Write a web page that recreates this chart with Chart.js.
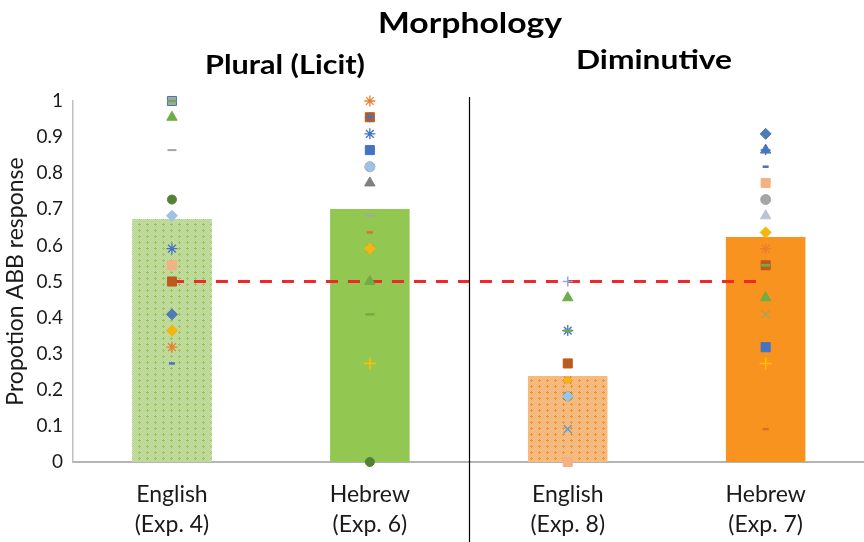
<!DOCTYPE html>
<html>
<head>
<meta charset="utf-8">
<script src="https://cdn.jsdelivr.net/npm/chart.js@4.4.1/dist/chart.umd.min.js"></script>
<style>
    html, body { margin: 0; padding: 0; background: #fff; overflow: hidden; }
    #wrap { width: 872px; height: 542px; }
</style>
</head>
<body>
<div id="wrap"><canvas id="morphChart"></canvas></div>
<script>
const categories = [['English', '(Exp. 4)'], ['Hebrew', '(Exp. 6)'], ['English', '(Exp. 8)'], ['Hebrew', '(Exp. 7)']];
const yTicks = [0, 0.1, 0.2, 0.3, 0.4, 0.5, 0.6, 0.7, 0.8, 0.9, 1];
const meanScores = [0.673, 0.701, 0.238, 0.623];
const chanceLevel = [0.5, 0.5, 0.5, 0.5];

// individual participants, one array per experiment
const exp4Scores = [1, 1, 1, 0.955, 0.864, 0.727, 0.682, 0.591, 0.545, 0.5, 0.409, 0.364, 0.364, 0.318, 0.273];
const exp6Scores = [1, 0.955, 0.955, 0.909, 0.864, 0.818, 0.818, 0.773, 0.682, 0.636, 0.591, 0.591, 0.5, 0.409, 0.273, 0];
const exp8Scores = [0.5, 0.455, 0.364, 0.364, 0.273, 0.273, 0.227, 0.227, 0.182, 0.182, 0.091, 0];
const exp7Scores = [0.909, 0.909, 0.864, 0.864, 0.818, 0.773, 0.727, 0.682, 0.636, 0.591, 0.545, 0.545, 0.455, 0.409, 0.318, 0.273, 0.091];

// marker look of each participant (same order as the scores)
const exp4Markers = ['xOrange', 'sqGreyBlue', 'dashGreen', 'triGreen', 'dashGrey', 'dotDkGreen', 'diaLtBlue', 'starBlue', 'sqSalmon', 'sqBrown', 'diaBlue', 'plusYellow', 'diaYellow', 'starOrange', 'dashBlueSm'];
const exp6Markers = ['starOrange', 'sqBrown', 'plusBlue', 'starBlue', 'sqBlue', 'dotGrey', 'diaLtBlue', 'triDkGrey', 'dashGrey', 'dashOrangeSm', 'xOrange', 'diaYellow', 'triGreen', 'dashGreen', 'plusYellow', 'dotDkGreen'];
const exp8Markers = ['plusLtBlue', 'triGreen', 'starBlue', 'dashGreen', 'dashBlueSm', 'sqBrown', 'xOrange', 'diaYellowSm', 'dotDkGreen', 'diaLtBlue', 'xBlue', 'sqSalmon'];
const exp7Markers = ['dashGrey', 'diaBlue', 'triBlue', 'plusBlue', 'dashBlueSm', 'sqSalmon', 'dotGrey', 'triLtGrey', 'diaYellow', 'starOrange', 'sqBrown', 'dashGreen', 'triGreen', 'xOlive', 'sqBlue', 'plusYellow', 'dashOrangeSm'];

const MARKERS = {
    xOrange:      { style: 'crossRot',  fill: '#ED7D31', line: '#ED7D31', r: 5,   w: 1.5 },
    starOrange:   { style: 'star',      fill: '#ED7D31', line: '#ED7D31', r: 5.5, w: 1.3 },
    starBlue:     { style: 'star',      fill: '#4472C4', line: '#4472C4', r: 5.5, w: 1.3 },
    sqGreyBlue:   { style: 'rect',      fill: '#A5A5A5', line: '#4472C4', r: 6.4, w: 1 },
    dashGreen:    { style: 'line',      fill: '#70AD47', line: '#70AD47', r: 4.5, w: 2.5 },
    triGreen:     { style: 'triangle',  fill: '#70AD47', line: '#70AD47', r: 6,   w: 1 },
    dashGrey:     { style: 'line',      fill: '#A5A5A5', line: '#A5A5A5', r: 4.5, w: 2 },
    dotDkGreen:   { style: 'circle',    fill: '#548235', line: '#548235', r: 4.5, w: 1 },
    diaLtBlue:    { style: 'rectRot',   fill: '#9DC3E6', line: '#9DC3E6', r: 5.5, w: 1 },
    sqSalmon:     { style: 'rect',      fill: '#F4B183', line: '#F4B183', r: 6.4, w: 1 },
    sqBrown:      { style: 'rect',      fill: '#BC5A1E', line: '#BC5A1E', r: 6.4, w: 1 },
    diaBlue:      { style: 'rectRot',   fill: '#4E7AB5', line: '#4E7AB5', r: 5.5, w: 1 },
    diaYellow:    { style: 'rectRot',   fill: '#F5B50F', line: '#F5B50F', r: 5.5, w: 1 },
    diaYellowSm:  { style: 'rectRot',   fill: '#F5B50F', line: '#F5B50F', r: 4,   w: 1 },
    plusYellow:   { style: 'cross',     fill: '#FFC000', line: '#FFC000', r: 6,   w: 1.5 },
    dashBlueSm:   { style: 'line',      fill: '#4472C4', line: '#4472C4', r: 3,   w: 2.5 },
    plusBlue:     { style: 'cross',     fill: '#4472C4', line: '#4472C4', r: 5,   w: 1.5 },
    sqBlue:       { style: 'rect',      fill: '#4472C4', line: '#4472C4', r: 6.4, w: 1 },
    dotGrey:      { style: 'circle',    fill: '#A5A5A5', line: '#A5A5A5', r: 5,   w: 1 },
    triDkGrey:    { style: 'triangle',  fill: '#7F7F7F', line: '#7F7F7F', r: 6,   w: 1 },
    dashOrangeSm: { style: 'line',      fill: '#E46C2A', line: '#E46C2A', r: 3,   w: 2.5 },
    plusLtBlue:   { style: 'cross',     fill: '#8FA9DC', line: '#8FA9DC', r: 5,   w: 1.5 },
    xBlue:        { style: 'crossRot',  fill: '#5B9BD5', line: '#5B9BD5', r: 5.5, w: 1.5 },
    triBlue:      { style: 'triangle',  fill: '#4E7AB5', line: '#4E7AB5', r: 6,   w: 1 },
    triLtGrey:    { style: 'triangle',  fill: '#BAC4D4', line: '#BAC4D4', r: 6,   w: 1 },
    xOlive:       { style: 'crossRot',  fill: '#B5A050', line: '#B5A050', r: 6,   w: 1.5 }
};

function makePattern(base, dot, speck) {
    const c = document.createElement('canvas');
    c.width = 8;
    c.height = 6;
    const g = c.getContext('2d');
    g.fillStyle = base;
    g.fillRect(0, 0, 8, 6);
    g.fillStyle = speck;
    for (let y = 0; y < 6; y++) {
        for (let x = (y % 2); x < 8; x += 2) g.fillRect(x, y, 1, 1);
    }
    g.fillStyle = dot;
    g.fillRect(2, 2, 3, 1);
    g.fillRect(3, 1, 1, 3);
    return g.createPattern(c, 'repeat');
}

function participantDataset(col, scores, markerKeys) {
    const m = markerKeys.map(k => MARKERS[k]);
    return {
        type: 'line',
        showLine: false,
        clip: false,
        order: 1,
        // x is the category label itself so the category scale finds its column
        data: scores.map(v => ({ x: categories[col], y: v })),
        pointStyle: m.map(p => p.style),
        pointRadius: m.map(p => p.r),
        pointBackgroundColor: m.map(p => p.fill),
        pointBorderColor: m.map(p => p.line),
        pointBorderWidth: m.map(p => p.w)
    };
}

function drawFitted(ctx, text, cx, baseline, font, width) {
    ctx.font = font;
    const w = ctx.measureText(text).width;
    ctx.save();
    ctx.translate(cx, baseline);
    ctx.scale(width / w, 1);
    ctx.fillText(text, 0, 0);
    ctx.restore();
}

const labelsPlugin = {
    id: 'morphLabels',
    afterDraw(chart) {
        const ctx = chart.ctx;
        const area = chart.chartArea;
        const xScale = chart.scales.x;
        const divX = Math.round(xScale.getPixelForValue(1.5)) + 0.5;

        ctx.save();
        ctx.strokeStyle = '#000';
        ctx.lineWidth = 1.2;
        ctx.beginPath();
        ctx.moveTo(divX, area.top - 4);
        ctx.lineTo(divX, chart.height);
        ctx.stroke();

        ctx.fillStyle = '#000';
        ctx.textAlign = 'center';
        ctx.textBaseline = 'alphabetic';
        drawFitted(ctx, 'Morphology', 470, 33, 'bold 29px Lato', 184);
        drawFitted(ctx, 'Plural (Licit)', 285, 74, 'bold 27px Lato', 160);
        drawFitted(ctx, 'Diminutive', 654, 69, 'bold 27px Lato', 156);
        ctx.restore();
    }
};

document.addEventListener('DOMContentLoaded', () => {
    const ctx = document.getElementById('morphChart').getContext('2d');
    const greenHatch = makePattern('#C6DEA6', '#94C752', '#B9D690');
    const orangeHatch = makePattern('#F5C28D', '#F78F22', '#F2B373');

    new Chart(ctx, {
        type: 'bar',
        data: {
            labels: categories,
            datasets: [
                {
                    type: 'line',
                    data: chanceLevel,
                    borderColor: '#F02828',
                    borderWidth: 3,
                    borderDash: [12, 10],
                    pointRadius: 0,
                    fill: false,
                    clip: false,
                    order: 2
                },
                participantDataset(0, exp4Scores, exp4Markers),
                participantDataset(1, exp6Scores, exp6Markers),
                participantDataset(2, exp8Scores, exp8Markers),
                participantDataset(3, exp7Scores, exp7Markers),
                {
                    data: meanScores,
                    backgroundColor: [greenHatch, '#92C851', orangeHatch, '#F7931E'],
                    borderWidth: 0,
                    categoryPercentage: 1,
                    barPercentage: 0.402,
                    order: 3
                }
            ]
        },
        options: {
            responsive: true,
            maintainAspectRatio: false,
            animation: false,
            events: [],
            layout: {
                padding: { top: 101, right: 2, bottom: 0, left: 0 }
            },
            plugins: {
                legend: { display: false },
                tooltip: { enabled: false }
            },
            scales: {
                x: {
                    grid: { display: false, drawTicks: false },
                    border: { display: true, color: '#B4B4B4', width: 2 },
                    ticks: {
                        color: '#1a1a1a',
                        padding: 18,
                        maxRotation: 0,
                        font: { family: 'Lato', size: 23, lineHeight: 1.3 }
                    },
                    afterFit: scale => { scale.height = 80; }
                },
                y: {
                    min: 0,
                    max: 1,
                    grid: { display: false, drawTicks: false },
                    border: { display: true, color: '#BFBFBF', width: 1.5 },
                    afterBuildTicks: scale => {
                        scale.ticks = yTicks.map(v => ({ value: v }));
                    },
                    ticks: {
                        color: '#1a1a1a',
                        padding: 10,
                        font: { family: 'Lato', size: 19 },
                        callback: value => String(+value.toFixed(1))
                    },
                    title: {
                        display: true,
                        text: 'Propotion ABB response',
                        color: '#1a1a1a',
                        padding: { top: 2, bottom: 0 },
                        font: { family: 'Lato', size: 23 }
                    },
                    afterFit: scale => { scale.width = 73; }
                }
            }
        },
        plugins: [labelsPlugin]
    });
});
</script>
</body>
</html>
